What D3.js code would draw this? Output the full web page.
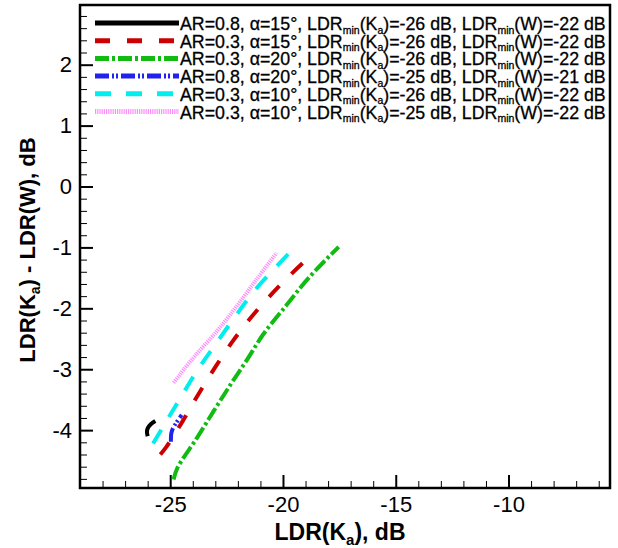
<!DOCTYPE html>
<html>
<head>
<meta charset="utf-8">
<script src="https://cdn.jsdelivr.net/npm/d3@7"></script>
<style>
  body { margin: 0; background: #fff; }
  svg { display: block; font-family: "Liberation Sans", Arial, sans-serif; }
</style>
</head>
<body>
<div id="chart"></div>
<script>
// data (LDR(Ka) in dB, difference in dB)
const blackX = [-25.66, -25.85, -26.0, -26.03, -26.0];
const blackY = [-3.85, -3.9, -3.97, -4.03, -4.1];
const redX = [-25.44, -25.22, -24.46, -23.75, -23.01, -22.21, -21.28, -20.18, -19.04, -18.75];
const redY = [-4.4, -4.3, -3.86, -3.41, -2.97, -2.53, -2.09, -1.64, -1.23, -1.14];
const greenX = [-24.85, -24.68, -23.82, -23.06, -22.32, -21.62, -20.88, -19.85, -18.86, -17.53];
const greenY = [-4.81, -4.62, -4.13, -3.68, -3.25, -2.86, -2.43, -1.95, -1.5, -0.99];
const blueX = [-24.97, -24.95, -24.88, -24.49];
const blueY = [-4.19, -4.05, -3.97, -3.75];
const cyanX = [-25.76, -25.18, -24.56, -23.82, -23.01, -22.15, -21.24, -19.74];
const cyanY = [-4.22, -3.86, -3.48, -3.03, -2.6, -2.15, -1.7, -1.1];
const pinkX = [-24.85, -24.63, -24.41, -23.9, -22.94, -22.06, -21.18, -20.29];
const pinkY = [-3.22, -3.12, -3.01, -2.78, -2.38, -1.97, -1.53, -1.09];

const xTicks = [-25, -20, -15, -10];
const yTicks = [-4, -3, -2, -1, 0, 1, 2];

// legend pieces: AR, alpha, LDRmin(Ka), LDRmin(W)
const legAR = ["0.8", "0.3", "0.3", "0.8", "0.3", "0.3"];
const legAlpha = ["15", "15", "20", "20", "10", "10"];
const legKa = ["-26", "-26", "-26", "-25", "-26", "-25"];
const legW = ["-22", "-22", "-22", "-21", "-22", "-22"];

const series = [
  { x: blackX, y: blackY, color: "#000000", dash: null, w: 4 },
  { x: redX, y: redY, color: "#cc0000", dash: "15,17", w: 4 },
  { x: greenX, y: greenY, color: "#11bb11", dash: "14,3,3,3", w: 4 },
  { x: blueX, y: blueY, color: "#2222ee", dash: "14,3,2,2,2,3", w: 4 },
  { x: cyanX, y: cyanY, color: "#00eeee", dash: "16,15", w: 4 },
  { x: pinkX, y: pinkY, color: "#ff8cff", dash: "1.2,1", w: 4 }
];

const width = 618, height = 548;
const m = { left: 80, right: 610, top: 5, bottom: 488 };
const font = "'Liberation Sans', Arial, sans-serif";

const svg = d3.select("#chart").append("svg")
  .attr("width", width)
  .attr("height", height);

const x = d3.scaleLinear().domain([-29, -5.5]).range([m.left, m.right]);
const y = d3.scaleLinear().domain([-4.95, 2.98]).range([m.bottom, m.top]);

// minor ticks
const xMinor = d3.range(-29, -5, 1).filter(d => xTicks.indexOf(d) < 0);
const yMinor = d3.range(-48, 30, 2).map(d => d / 10).filter(d => yTicks.indexOf(d) < 0);

svg.append("g")
  .attr("transform", `translate(0,${m.bottom})`)
  .call(d3.axisBottom(x).tickValues(xMinor).tickSize(-7).tickFormat(""))
  .call(g => g.select(".domain").remove());

svg.append("g")
  .attr("transform", `translate(${m.left},0)`)
  .call(d3.axisLeft(y).tickValues(yMinor).tickSize(-7).tickFormat(""))
  .call(g => g.select(".domain").remove());

const xAxis = svg.append("g")
  .attr("transform", `translate(0,${m.bottom})`)
  .call(d3.axisBottom(x).tickValues(xTicks).tickSize(-13).tickPadding(8).tickFormat(d => d));
xAxis.select(".domain").remove();
xAxis.attr("font-family", font);
xAxis.selectAll("line").attr("stroke-width", 2);
xAxis.selectAll("text").attr("font-size", 22).attr("fill", "#000");

const yAxis = svg.append("g")
  .attr("transform", `translate(${m.left},0)`)
  .call(d3.axisLeft(y).tickValues(yTicks).tickSize(-13).tickPadding(8).tickFormat(d => d));
yAxis.select(".domain").remove();
yAxis.attr("font-family", font);
yAxis.selectAll("line").attr("stroke-width", 2);
yAxis.selectAll("text").attr("font-size", 22).attr("fill", "#000");

svg.selectAll(".tick line").attr("stroke", "#000");

// curves
const line = d3.line()
  .x(d => x(d[0]))
  .y(d => y(d[1]))
  .curve(d3.curveCatmullRom);

series.forEach(s => {
  svg.append("path")
    .datum(s.x.map((v, i) => [v, s.y[i]]))
    .attr("d", line)
    .attr("fill", "none")
    .attr("stroke", s.color)
    .attr("stroke-width", s.w)
    .attr("stroke-dasharray", s.dash);
});

// frame
svg.append("rect")
  .attr("x", m.left).attr("y", m.top)
  .attr("width", m.right - m.left).attr("height", m.bottom - m.top)
  .attr("fill", "none")
  .attr("stroke", "#000")
  .attr("stroke-width", 2.5);

// legend
const leg = svg.append("g");
series.forEach((s, i) => {
  const ly = 23 + i * 17.7;
  leg.append("line")
    .attr("x1", 95).attr("x2", 179)
    .attr("y1", ly).attr("y2", ly)
    .attr("stroke", s.color)
    .attr("stroke-width", 5)
    .attr("stroke-dasharray", s.dash);
  const t = leg.append("text")
    .attr("x", 180).attr("y", ly + 7)
    .attr("font-size", 17.8)
    .attr("fill", "#000")
    .attr("stroke", "#000")
    .attr("stroke-width", 0.3);
  t.append("tspan").text(`AR=${legAR[i]}, \u03b1=${legAlpha[i]}\u00b0, LDR`);
  t.append("tspan").attr("dy", 3.5).attr("font-size", 10.5).text("min");
  t.append("tspan").attr("dy", -3.5).text("(K");
  t.append("tspan").attr("dy", 3.5).attr("font-size", 10.5).text("a");
  t.append("tspan").attr("dy", -3.5).text(`)=${legKa[i]} dB, LDR`);
  t.append("tspan").attr("dy", 3.5).attr("font-size", 10.5).text("min");
  t.append("tspan").attr("dy", -3.5).text(`(W)=${legW[i]} dB`);
});

// axis titles
const xt = svg.append("text")
  .attr("x", 340).attr("y", 540)
  .attr("text-anchor", "middle")
  .attr("font-size", 23).attr("font-weight", "bold");
xt.append("tspan").text("LDR(K");
xt.append("tspan").attr("dy", 5).attr("font-size", 15).text("a");
xt.append("tspan").attr("dy", -5).text("), dB");

const yt = svg.append("text")
  .attr("transform", "translate(35,250) rotate(-90)")
  .attr("text-anchor", "middle")
  .attr("font-size", 22).attr("font-weight", "bold");
yt.append("tspan").text("LDR(K");
yt.append("tspan").attr("dy", 5).attr("font-size", 14).text("a");
yt.append("tspan").attr("dy", -5).text(") - LDR(W), dB");
</script>
</body>
</html>
